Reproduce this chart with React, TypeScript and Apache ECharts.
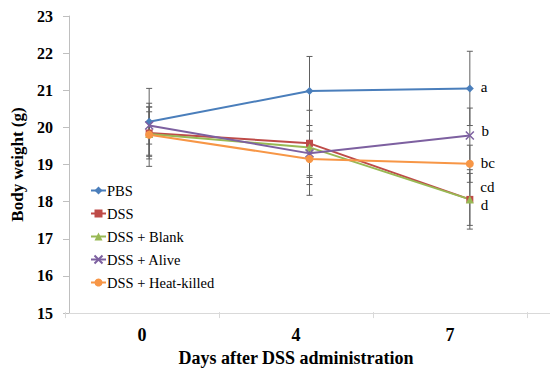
import React, { useEffect, useRef } from "react";
import * as echarts from "echarts";

const days = ["0", "4", "7"];
const seriesNames = ["PBS", "DSS", "DSS + Blank", "DSS + Alive", "DSS + Heat-killed"];
const pbs = [20.15, 20.98, 21.05];
const dss = [19.85, 19.57, 18.06];
const blank = [19.82, 19.46, 18.06];
const alive = [20.05, 19.3, 19.78];
const heat = [19.8, 19.15, 19.02];
const pbsSd = [0.9, 0.93, 1.0];
const dssSd = [0.7, 1.4, 0.8];
const blankSd = [0.6, 1.0, 0.7];
const aliveSd = [0.5, 0.6, 0.74];
const heatSd = [0.85, 0.5, 0.5];
const letters = ["a", "cd", "d", "b", "bc"];

const values = [pbs, dss, blank, alive, heat];
const sds = [pbsSd, dssSd, blankSd, aliveSd, heatSd];
const colors = ["#4a7ebb", "#be4b48", "#98b954", "#7d60a0", "#f79646"];
const symbols = ["diamond", "rect", "triangle", "path://M0,0L10,10M10,0L0,10", "circle"];
const symbolSizes = [8, 7, 8, 8, 8];
const labelOffsets = [[0, -1], [0, -12], [0, 6], [0, -5], [0, -1]];

const serif = "Times New Roman, Liberation Serif, serif";

export default function App() {
  const ref = useRef<HTMLDivElement>(null);
  useEffect(() => {
    if (!ref.current) return;
    const chart = echarts.init(ref.current, null, { renderer: "svg" });
    const lineSeries = values.map((vals, s) => ({
      name: seriesNames[s],
      type: "line",
      xAxisIndex: 0,
      yAxisIndex: 0,
      z: 3,
      data: vals.map((v, i) =>
        i === vals.length - 1
          ? {
              value: v,
              label: {
                show: true,
                position: "right",
                distance: 7,
                offset: labelOffsets[s],
                formatter: letters[s],
                fontFamily: serif,
                fontWeight: "normal",
                fontSize: 15,
                color: "#000",
              },
            }
          : v
      ),
      symbol: symbols[s],
      symbolSize: symbolSizes[s],
      lineStyle: { color: colors[s], width: 2 },
      itemStyle:
        s === 3
          ? { color: colors[s], borderColor: colors[s], borderWidth: 1.5 }
          : { color: colors[s] },
    }));
    const errData: number[][] = [];
    values.forEach((vals, s) =>
      vals.forEach((v, i) => errData.push([i, v - sds[s][i], v + sds[s][i]]))
    );
    const errSeries = {
      type: "custom",
      xAxisIndex: 0,
      yAxisIndex: 0,
      z: 2,
      silent: true,
      data: errData,
      renderItem: (params: any, api: any) => {
        const x = api.value(0);
        const lo = api.coord([x, api.value(1)]);
        const hi = api.coord([x, api.value(2)]);
        const st = { stroke: "#606060", lineWidth: 1 };
        return {
          type: "group",
          children: [
            { type: "line", shape: { x1: lo[0], y1: lo[1], x2: hi[0], y2: hi[1] }, style: st },
            { type: "line", shape: { x1: hi[0] - 3, y1: hi[1], x2: hi[0] + 3, y2: hi[1] }, style: st },
            { type: "line", shape: { x1: lo[0] - 3, y1: lo[1], x2: lo[0] + 3, y2: lo[1] }, style: st },
          ],
        };
      },
    };
    chart.setOption({
      animation: false,
      textStyle: { fontFamily: serif },
      grid: [
        { left: 69, top: 16, width: 484, height: 297 },
        { left: 65, top: 16, width: 462, height: 297 },
      ],
      legend: {
        orient: "vertical",
        left: 85,
        top: 178,
        itemWidth: 15,
        itemHeight: 10,
        itemGap: 8,
        data: seriesNames,
        textStyle: {
          fontFamily: serif,
          fontWeight: "normal",
          fontSize: 14.5,
          color: "#000",
          padding: [0, 0, 0, -4],
        },
      },
      xAxis: [
        {
          type: "category",
          gridIndex: 0,
          data: days,
          boundaryGap: true,
          axisLine: { show: true, lineStyle: { color: "#d9d9d9", width: 1 } },
          axisTick: { show: false },
          axisLabel: { show: false },
        },
        {
          type: "category",
          gridIndex: 1,
          data: days,
          boundaryGap: true,
          axisLine: { show: false },
          axisTick: { show: true, length: 6, lineStyle: { color: "#d9d9d9" } },
          axisLabel: {
            show: true,
            margin: 14,
            fontFamily: serif,
            fontSize: 18,
            fontWeight: "bold",
            color: "#000",
          },
          name: "Days after DSS administration",
          nameLocation: "middle",
          nameGap: 36,
          nameTextStyle: { fontFamily: serif, fontSize: 18, fontWeight: "bold", color: "#000" },
        },
      ],
      yAxis: [
        {
          type: "value",
          gridIndex: 0,
          min: 15,
          max: 23,
          interval: 1,
          axisLine: { show: true, lineStyle: { color: "#bfbfbf", width: 1 } },
          axisTick: { show: true, length: 6, lineStyle: { color: "#bfbfbf" } },
          splitLine: { show: false },
          axisLabel: {
            margin: 16,
            fontFamily: serif,
            fontSize: 16,
            fontWeight: "bold",
            color: "#000",
          },
          name: "Body weight (g)",
          nameLocation: "middle",
          nameGap: 43,
          nameTextStyle: { fontFamily: serif, fontSize: 17, fontWeight: "bold", color: "#000" },
        },
        { type: "value", gridIndex: 1, show: false, min: 15, max: 23 },
      ],
      series: [errSeries, ...lineSeries],
    });
    return () => chart.dispose();
  }, []);
  return (
    <div
      ref={ref}
      style={{ position: "fixed", left: 0, top: 0, width: 550, height: 372, background: "#fff" }}
    />
  );
}
